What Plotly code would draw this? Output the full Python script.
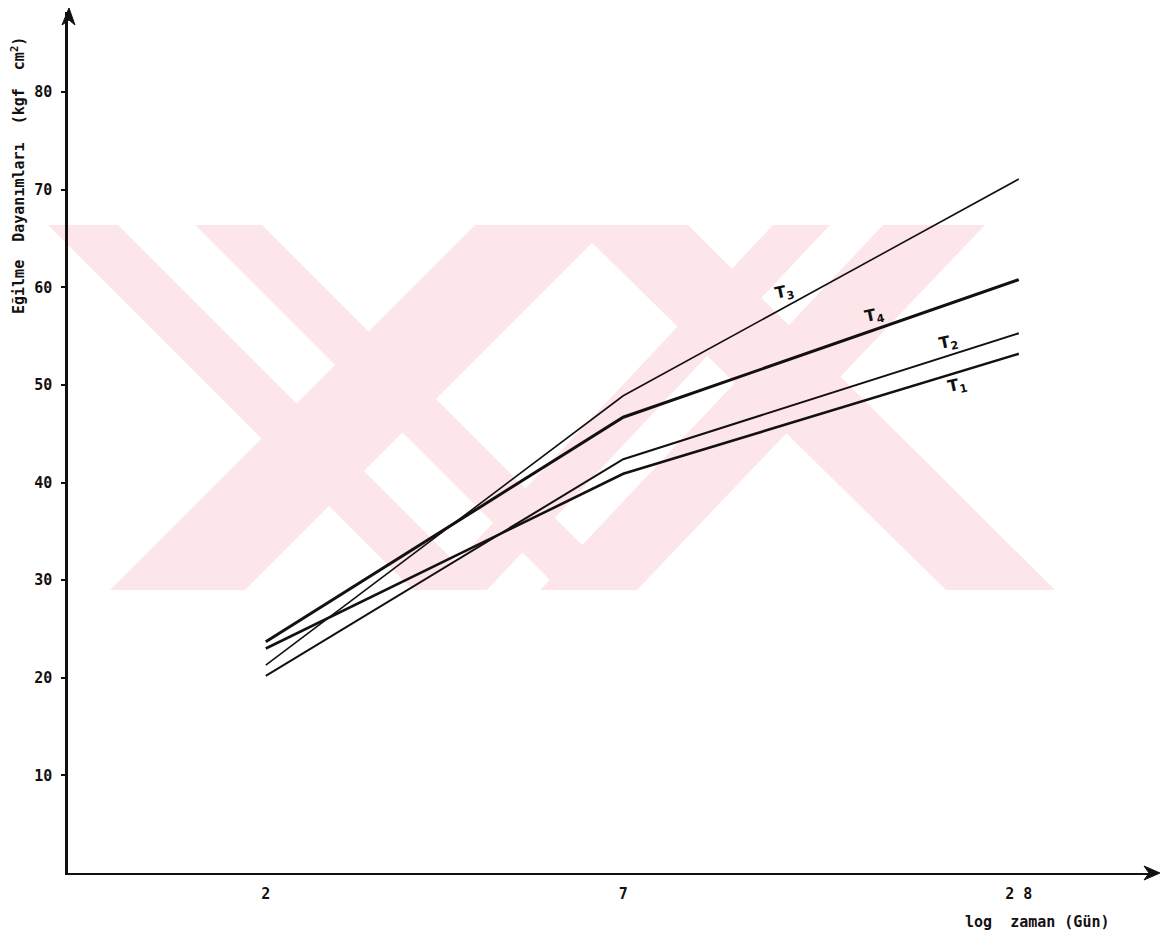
import numpy as np
import plotly.graph_objects as go

# ---- data ----
days = [2, 7, 28]
T1 = [23.0, 40.9, 53.2]
T2 = [20.2, 42.4, 55.3]
T3 = [21.3, 48.9, 71.1]
T4 = [23.7, 46.7, 60.8]
series_names = ["T1", "T2", "T3", "T4"]
series_labels = ["T<sub>1</sub>", "T<sub>2</sub>", "T<sub>3</sub>", "T<sub>4</sub>"]
label_x = [22.6, 21.9, 12.3, 16.9]
label_y = [49.9, 54.4, 59.5, 57.1]
y_ticks = [10, 20, 30, 40, 50, 60, 70, 80]
x_ticks = [2, 7, 28]
x_tick_text = ["2", "7", "2 8"]

# ---- geometry (reference pixel coords; page body has an 8px margin) ----
OFF = 8
W, H = 1171 - OFF, 941 - OFF
L, R, T, B = 68, 1152, 12, 873          # plot-area edges in reference pixels
PX_PER_DECADE = 657.0
PX_PER_UNIT = 9.76


def px(x):
    return (x - L) / (R - L)


def py(y):
    return (B - y) / (B - T)


def path(points):
    return "M " + " L ".join(f"{px(x):.5f} {py(y):.5f}" for x, y in points) + " Z"


INK = "#141010"
PINK = "#fce6ea"

fig = go.Figure()

widths = [2.6, 2.0, 1.6, 3.0]
for name, ys, w in zip(series_names, [T1, T2, T3, T4], widths):
    fig.add_trace(go.Scatter(x=days, y=ys, mode="lines", name=name,
                             line=dict(color=INK, width=w), showlegend=False))

shapes = []
# faint watermark: diagonal strips (top edge at y=225, bottom edge at y=590)
yt, yb = 225, 590
strips = [
    ((48, 118), (413, 483)),    # "\"
    ((195, 262), (560, 627)),   # "\"
    ((475, 610), (110, 245)),   # "/"
    ((773, 830), (430, 487)),   # "/"
    ((883, 985), (540, 637)),   # "/"
    ((574, 688), (946, 1055)),  # "\"
]
for (t0, t1), (b0, b1) in strips:
    shapes.append(dict(type="path", xref="paper", yref="paper",
                       path=path([(t0, yt), (t1, yt), (b1, yb), (b0, yb)]),
                       fillcolor=PINK, line=dict(width=0), layer="below"))

# axis arrowheads
shapes.append(dict(type="path", xref="paper", yref="paper",
                   path=path([(69, 8), (62, 25), (69, 20), (75, 25)]),
                   fillcolor=INK, line=dict(color=INK, width=1)))
shapes.append(dict(type="path", xref="paper", yref="paper",
                   path=path([(1160, 873), (1144, 866), (1149, 873), (1144, 880)]),
                   fillcolor=INK, line=dict(color=INK, width=1)))

annotations = []
for lab, lx, ly in zip(series_labels, label_x, label_y):
    annotations.append(dict(x=float(np.log10(lx)), y=ly, xref="x", yref="y", text=lab,
                            showarrow=False, textangle=-12, xanchor="center", yanchor="middle",
                            font=dict(family="DejaVu Sans", size=16, color=INK, weight="bold")))

annotations.append(dict(x=px(18), y=py(176), xref="paper", yref="paper",
                        xanchor="center", yanchor="middle",
                        text="Eğilme  Dayanımları  (kgf  cm<sup>2</sup>)", showarrow=False,
                        textangle=-90,
                        font=dict(family="DejaVu Sans Mono", size=15, color=INK, weight="bold")))
annotations.append(dict(x=px(1037), y=py(922), xref="paper", yref="paper",
                        xanchor="center", yanchor="middle",
                        text="log  zaman (Gün)", showarrow=False,
                        font=dict(family="DejaVu Sans Mono", size=15, color=INK, weight="bold")))

fig.update_layout(
    width=W, height=H,
    margin=dict(l=L - OFF, r=W - (R - OFF), t=T - OFF, b=H - (B - OFF), autoexpand=False),
    paper_bgcolor="white", plot_bgcolor="white",
    shapes=shapes, annotations=annotations,
    xaxis=dict(type="log", range=[0, (R - L) / PX_PER_DECADE], tickvals=x_ticks,
               ticktext=x_tick_text,
               showgrid=False, zeroline=False, showline=True, linecolor=INK, linewidth=2,
               ticks="", ticklabelstandoff=6, automargin=False,
               tickfont=dict(family="DejaVu Sans Mono", size=15, color=INK, weight="bold")),
    yaxis=dict(range=[0, (B - T) / PX_PER_UNIT], tickvals=y_ticks,
               showgrid=False, zeroline=False, showline=True, linecolor=INK, linewidth=2.5,
               ticks="outside", ticklen=4, tickwidth=2, tickcolor=INK, ticklabelstandoff=6,
               automargin=False,
               tickfont=dict(family="DejaVu Sans Mono", size=15, color=INK, weight="bold")),
)

fig.write_html("out.html")
